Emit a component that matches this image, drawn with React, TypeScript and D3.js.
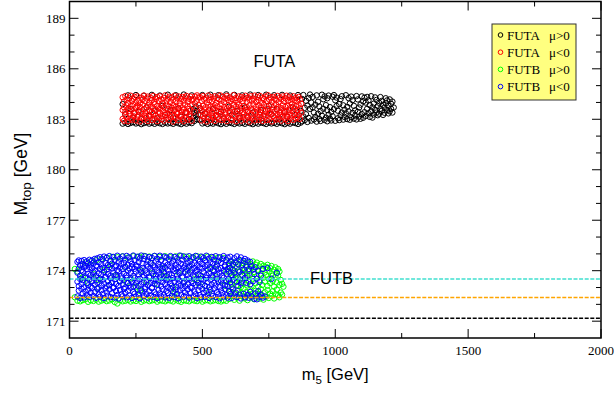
import React from 'react';
import * as d3 from 'd3';

// ---------- data (GeV) ----------
const xDomain = [0, 2000];
const yDomain = [170, 190];
const xMajorTicks = [0, 500, 1000, 1500, 2000];
const xMinorTicks = [250, 750, 1250, 1750];
const yMajorTicks = [171, 174, 177, 180, 183, 186, 189];
const yMinorTicks = [172, 173, 175, 176, 178, 179, 181, 182, 184, 185, 187, 188];

const refLineValues = [171.17, 172.4, 173.5];

const legendModels = ['FUTA', 'FUTA', 'FUTB', 'FUTB'];
const legendSigns = ['\u03bc>0', '\u03bc<0', '\u03bc>0', '\u03bc<0'];

const regionLabels = ['FUTA', 'FUTB'];
const regionLabelX = [771, 986];
const regionLabelY = [186.12, 173.21];

// Each row: [m5, Mtop, Mtop, ...] — points sharing (about) the same m5
// FUTA mu>0 (black)
const futaPos = [
  [200, 182.74, 183.9], [210, 182.8, 183.3], [220, 182.72, 184.42], [230, 182.78, 183.6], [240, 182.83, 183.1],
  [250, 182.75, 184.44], [260, 182.79, 183.45], [270, 182.71, 183.0], [280, 182.77, 184.4], [290, 182.82, 183.7],
  [300, 182.74, 183.2], [310, 182.79, 184.45], [320, 182.73, 183.5], [330, 182.81, 183.05], [340, 182.76, 184.41],
  [350, 182.72, 183.8], [360, 182.8, 183.25], [370, 182.75, 184.46], [380, 182.78, 183.55], [390, 182.73, 183.1],
  [400, 182.82, 184.43], [410, 182.76, 183.65], [420, 182.71, 183.15], [430, 182.79, 184.47], [440, 182.74, 183.4],
  [450, 182.81, 183.0], [460, 182.77, 184.42],
  [465, 183.1, 183.6], [470, 182.9, 183.4], [475, 183.25, 183.75], [480, 183.0, 183.5],
  [485, 183.3], [490, 182.95, 183.65],
  [500, 182.75, 184.44], [510, 182.8, 183.35], [520, 182.72, 183.0], [530, 182.78, 184.46], [540, 182.74, 183.6],
  [550, 182.83, 183.2], [560, 182.76, 184.43], [570, 182.71, 183.45], [580, 182.79, 183.05], [590, 182.73, 184.48],
  [600, 182.81, 183.75], [610, 182.77, 183.25], [620, 182.72, 184.45], [630, 182.8, 183.5], [640, 182.75, 183.1],
  [650, 182.78, 184.42], [660, 182.73, 183.7], [670, 182.82, 183.15], [680, 182.76, 184.47], [690, 182.71, 183.4],
  [700, 182.79, 183.0], [710, 182.74, 184.44], [720, 182.81, 183.55], [730, 182.77, 183.2], [740, 182.72, 184.46],
  [750, 182.8, 183.8], [760, 182.75, 183.3], [770, 182.78, 184.43], [780, 182.73, 183.6], [790, 182.82, 183.05],
  [800, 182.76, 184.45], [810, 182.71, 183.45], [820, 182.79, 183.15], [830, 182.74, 184.41], [840, 182.81, 183.7],
  [850, 182.77, 183.25], [860, 182.72, 184.44], [870, 182.8, 183.5],
  [875, 182.88, 184.21], [880, 183.17, 184.44], [885, 182.95, 183.68], [890, 183.3, 184.1],
  [895, 182.84, 183.81], [900, 183.08, 184.27], [905, 183.62, 184.47], [910, 182.92, 183.99],
  [915, 183.71, 184.33], [920, 182.99, 183.4], [925, 183.14, 183.87], [930, 182.86, 184.42],
  [935, 183.33, 184.04], [940, 183.02, 183.76], [945, 182.9, 183.49], [950, 183.21, 184.46],
  [955, 183.63, 184.19], [960, 182.96, 184.36], [965, 183.1, 183.84], [970, 182.88, 183.55, 184.25],
  [975, 183.27, 184.41], [980, 183.04, 183.72], [985, 182.93, 183.44], [990, 183.18, 184.34],
  [995, 183.6, 184.44], [1000, 182.91, 184.13], [1005, 183.79, 184.29], [1010, 183.06, 183.51],
  [1015, 182.95, 183.9], [1020, 183.23, 184.2], [1025, 183.4, 184.37], [1030, 182.98, 183.83],
  [1035, 183.14, 183.57], [1040, 183.35, 184.43], [1045, 183.01, 183.74], [1050, 183.47, 184.26],
  [1055, 182.97, 183.94], [1060, 183.12, 184.35], [1065, 183.38, 184.14], [1070, 183.04, 183.8],
  [1075, 183.22, 183.53], [1080, 182.99, 184.38], [1085, 183.44, 184.18], [1090, 183.16, 183.7],
  [1095, 183.03, 183.87], [1100, 183.31, 184.36], [1105, 183.09, 184.06], [1110, 183.42, 184.28],
  [1115, 183.2, 183.99], [1120, 183.62, 184.33], [1125, 183.36, 184.12], [1130, 183.14, 183.84],
  [1135, 183.48, 184.37], [1140, 183.1, 183.71], [1145, 183.28, 183.93], [1150, 183.56, 184.3],
  [1155, 183.4, 184.15], [1160, 183.24, 183.79], [1165, 183.33, 183.98], [1170, 183.63, 184.32],
  [1175, 183.5, 184.09], [1180, 183.26, 183.86], [1185, 183.39, 183.7], [1190, 183.95, 184.25],
  [1195, 183.55, 184.12], [1200, 183.35, 183.8], [1205, 183.47, 184.18], [1210, 183.62, 183.92], [1215, 183.4, 184.05],
  [1220, 183.7],
];

// FUTA mu<0 (red)
const futaNeg = [
  [200, 183.02, 183.55, 184.31], [205, 182.91, 183.71, 184.05], [210, 183.24, 183.44, 184.38], [215, 183.11, 183.83, 184.17],
  [220, 182.88, 183.62, 183.97], [225, 183.3, 183.49, 184.26], [230, 183.05, 183.77, 184.4], [235, 182.97, 183.58, 184.09],
  [240, 183.19, 183.88, 184.22], [245, 183.35, 183.41, 184.33], [250, 182.93, 183.66, 184.01], [255, 183.14, 183.8, 184.36],
  [260, 183.27, 183.52, 184.12], [265, 182.87, 183.73, 183.95], [270, 183.09, 183.46, 184.29], [275, 183.33, 183.86, 184.19],
  [280, 182.99, 183.6, 184.41], [285, 183.21, 183.39, 184.07], [290, 183.07, 183.69, 184.24], [295, 182.9, 183.84, 184.35],
  [300, 183.28, 183.53, 183.99], [305, 183.16, 183.75, 184.28], [310, 182.95, 183.43, 184.14], [315, 183.31, 183.67, 184.39],
  [320, 183.04, 183.89, 184.03], [325, 183.22, 183.57, 184.21], [330, 182.89, 183.79, 184.32], [335, 183.12, 183.45, 184.1],
  [340, 183.36, 183.64, 184.37], [345, 183.0, 183.82, 184.18], [350, 183.18, 183.5, 183.96], [355, 182.92, 183.72, 184.27],
  [360, 183.26, 183.4, 184.42], [365, 183.08, 183.87, 184.08], [370, 183.34, 183.59, 184.23], [375, 182.96, 183.76, 184.34],
  [380, 183.13, 183.48, 184.02], [385, 183.29, 183.68, 184.3], [390, 182.86, 183.85, 184.16], [395, 183.2, 183.54, 184.4],
  [400, 183.06, 183.74, 184.06], [405, 183.32, 183.42, 184.25], [410, 182.94, 183.63, 184.36], [415, 183.17, 183.81, 183.98],
  [420, 183.25, 183.47, 184.2], [425, 183.01, 183.7, 184.33], [430, 182.88, 183.56, 184.11], [435, 183.37, 183.88, 184.29],
  [440, 183.1, 183.44, 184.39], [445, 182.98, 183.78, 184.04], [450, 183.23, 183.61, 184.22], [455, 183.15, 183.52, 184.35],
  [460, 182.91, 183.83, 184.13], [465, 184.2], [468, 183.45], [472, 183.95, 184.35], [478, 184.1], [480, 184.42],
  [486, 183.85, 184.3],
  [492, 183.27, 183.66, 184.3], [497, 182.93, 183.49, 184.09], [502, 183.19, 183.8, 184.38], [507, 183.03, 183.58, 184.17],
  [512, 183.3, 183.71, 184.26], [517, 182.87, 183.43, 184.01], [522, 183.12, 183.86, 184.41], [527, 183.35, 183.55, 184.14],
  [532, 182.97, 183.75, 184.31], [537, 183.21, 183.4, 184.06], [542, 183.08, 183.67, 184.23], [547, 182.9, 183.84, 184.37],
  [552, 183.26, 183.51, 183.97], [557, 183.14, 183.77, 184.28], [562, 183.0, 183.46, 184.19], [567, 183.33, 183.62, 184.42],
  [572, 182.95, 183.89, 184.1], [577, 183.18, 183.53, 184.34], [582, 183.05, 183.73, 184.02], [587, 183.28, 183.41, 184.24],
  [592, 182.89, 183.65, 184.39], [597, 183.11, 183.82, 184.15], [602, 183.36, 183.48, 184.3], [607, 183.02, 183.7, 184.07],
  [612, 182.94, 183.57, 184.21], [617, 183.24, 183.87, 184.43], [622, 183.16, 183.44, 184.12], [627, 182.88, 183.76, 184.27],
  [632, 183.31, 183.6, 184.0], [637, 183.07, 183.85, 184.36], [642, 183.2, 183.5, 184.18], [647, 182.92, 183.68, 184.32],
  [652, 183.13, 183.42, 184.08], [657, 183.34, 183.79, 184.25], [662, 182.99, 183.55, 184.4], [667, 183.22, 183.72, 184.03],
  [672, 183.09, 183.47, 184.29], [677, 182.86, 183.83, 184.16], [682, 183.27, 183.63, 184.37], [687, 183.04, 183.52, 184.11],
  [692, 183.18, 183.88, 184.22], [697, 182.93, 183.45, 184.41], [702, 183.35, 183.74, 184.05], [707, 183.12, 183.58, 184.31],
  [712, 182.97, 183.81, 184.14], [717, 183.25, 183.43, 184.38], [722, 183.06, 183.69, 183.99], [727, 182.9, 183.54, 184.26],
  [732, 183.3, 183.86, 184.2], [737, 183.15, 183.49, 184.35], [742, 182.95, 183.77, 184.09], [747, 183.21, 183.61, 184.42],
  [752, 183.01, 183.4, 184.17], [757, 183.33, 183.84, 184.28], [762, 182.87, 183.56, 184.04], [767, 183.19, 183.71, 184.33],
  [772, 183.1, 183.46, 184.23], [777, 182.98, 183.89, 184.13], [782, 183.28, 183.59, 184.39], [787, 183.03, 183.75, 184.01],
  [792, 183.24, 183.42, 184.3], [797, 182.92, 183.66, 184.19], [802, 183.14, 183.83, 184.36], [807, 183.36, 183.51, 184.07],
  [812, 183.0, 183.73, 184.25], [817, 183.17, 183.44, 184.4], [822, 182.89, 183.8, 184.12], [827, 183.27, 183.57, 184.31],
  [832, 183.08, 183.68, 184.02], [837, 183.22, 183.87, 184.21], [842, 182.96, 183.48, 184.37], [847, 183.31, 183.62, 184.15],
  [852, 183.05, 183.78, 184.27], [857, 183.13, 183.53, 184.06], [862, 183.26, 183.85, 184.33], [867, 183.02, 183.64, 184.18],
  [872, 183.4, 183.92],
];

// FUTB mu>0 (green)
const futbPos = [
  [20, 174.1, 172.42], [30, 172.22, 173.95], [40, 174.3, 172.18], [50, 172.25, 173.62], [60, 174.48, 172.3],
  [70, 172.15, 173.28], [80, 174.55, 172.24], [90, 172.2, 173.8], [100, 174.62, 172.28], [110, 172.16, 173.45],
  [120, 174.7, 172.22], [130, 172.27, 174.05], [140, 174.76, 172.19], [150, 172.23, 173.15], [160, 174.82, 172.3],
  [170, 172.14, 173.7], [180, 174.8, 172.05], [190, 172.25, 173.4], [200, 174.85, 172.18], [210, 172.21, 174.2],
  [220, 174.78, 172.26], [230, 172.17, 173.55], [240, 174.86, 172.24], [250, 172.2, 173.05], [260, 174.83, 172.29],
  [270, 172.15, 174.0], [280, 174.88, 172.22], [290, 172.26, 173.35], [300, 174.84, 172.19], [310, 172.23, 173.85],
  [320, 174.87, 172.27], [330, 172.16, 173.2], [340, 174.82, 172.24], [350, 172.21, 174.15], [360, 174.86, 172.18],
  [370, 172.25, 173.6], [380, 174.8, 172.22], [390, 172.17, 173.0], [400, 174.85, 172.28], [410, 172.2, 173.9],
  [420, 174.88, 172.15], [430, 172.24, 173.3], [440, 174.83, 172.21], [450, 172.18, 174.25], [460, 174.79, 172.26],
  [470, 172.22, 173.5], [480, 174.86, 172.19], [490, 172.27, 173.75], [500, 174.81, 172.16], [510, 172.23, 173.1],
  [520, 174.84, 172.25], [530, 172.18, 174.1], [540, 174.8, 172.22], [550, 172.26, 173.65], [560, 174.78, 172.2],
  [570, 172.17, 173.4], [580, 174.75, 172.24], [590, 172.21, 173.95],
  [45, 173.55], [105, 172.95], [155, 174.35], [215, 173.3], [265, 172.8], [305, 174.45], [355, 173.7],
  [395, 172.65], [445, 174.0], [485, 173.25], [525, 172.75], [555, 174.3], [585, 173.1],
  [600, 172.32, 173.41, 174.28], [605, 172.75, 173.88, 174.55], [610, 172.48, 173.2, 174.1], [615, 172.95, 173.63, 174.42],
  [620, 172.27, 173.35, 174.0], [625, 172.6, 173.79, 174.51], [630, 172.4, 173.12, 174.21], [635, 172.83, 173.56, 174.37],
  [640, 172.22, 173.47, 173.95], [645, 172.68, 173.02, 174.58], [650, 172.5, 173.7, 174.15], [655, 172.91, 173.28, 174.45],
  [660, 172.35, 173.85, 174.05], [665, 172.73, 173.17, 174.32], [670, 172.25, 173.6, 174.5], [675, 172.57, 173.38, 173.98],
  [680, 172.88, 173.75, 174.4], [685, 172.42, 173.08, 174.2], [690, 172.66, 173.53, 174.55], [695, 172.3, 173.92, 174.12],
  [700, 172.8, 173.25, 174.36], [705, 172.46, 173.68, 174.48], [710, 172.62, 173.05, 174.02], [715, 172.34, 173.44, 174.25],
  [720, 172.9, 173.82, 174.4], [725, 172.53, 173.15, 174.08], [730, 172.28, 173.58, 174.3], [735, 172.72, 173.35, 173.9],
  [740, 172.45, 173.74, 174.22], [745, 172.85, 173.1, 174.35], [750, 172.38, 173.5, 173.96], [755, 172.64, 173.27, 174.15],
  [760, 172.5, 173.83, 174.28], [765, 172.78, 173.4, 173.7], [770, 172.35, 173.05, 174.05], [775, 172.6, 173.62, 174.2],
  [780, 172.88, 173.3, 173.85], [785, 172.55, 173.7, 174.1], [790, 172.42, 173.15, 173.95], [795, 172.7, 173.45],
  [800, 172.58, 173.22], [805, 173.05],
];

// FUTB mu<0 (blue)
const futbNeg = [
  [30, 172.47, 173.35, 173.88, 174.52], [35, 172.82, 173.08, 174.12, 174.61], [40, 172.38, 173.51, 173.7, 174.33],
  [45, 172.93, 173.2, 174.03, 174.58], [50, 172.64, 173.44, 173.95, 174.4], [55, 172.41, 173.02, 174.19, 174.63],
  [60, 172.76, 173.57, 173.66, 174.29], [65, 172.55, 173.26, 174.08, 174.55], [70, 172.87, 173.13, 173.82, 174.44],
  [75, 172.44, 173.48, 174.22, 174.65], [80, 172.69, 173.05, 173.74, 174.36], [85, 172.98, 173.38, 174.15, 174.6],
  [90, 172.5, 173.59, 173.91, 174.48], [95, 172.73, 173.17, 174.01, 174.7], [100, 172.39, 173.42, 173.68, 174.31],
  [105, 172.91, 173.29, 174.24, 174.74], [110, 172.58, 173.0, 173.85, 174.5], [115, 172.46, 173.53, 174.1, 174.8],
  [120, 172.84, 173.11, 173.77, 174.38], [125, 172.62, 173.46, 174.17, 174.68], [130, 172.37, 173.23, 173.93, 174.84],
  [135, 172.95, 173.6, 173.64, 174.45], [140, 172.71, 173.07, 174.06, 174.77], [145, 172.52, 173.39, 173.8, 174.34],
  [150, 172.89, 173.15, 174.21, 174.87], [155, 172.43, 173.55, 173.71, 174.58], [160, 172.66, 173.31, 174.13, 174.42],
  [165, 172.97, 173.03, 173.89, 174.82], [170, 172.4, 173.49, 174.25, 174.64], [175, 172.79, 173.21, 173.75, 174.3],
  [180, 172.56, 173.61, 174.04, 174.89], [185, 172.35, 173.1, 173.97, 174.53], [190, 172.86, 173.36, 174.18, 174.72],
  [195, 172.6, 173.54, 173.67, 174.39], [200, 172.48, 173.18, 174.09, 174.85], [205, 172.92, 173.43, 173.83, 174.47],
  [210, 172.68, 173.01, 174.23, 174.66], [215, 172.42, 173.58, 173.73, 174.88], [220, 172.81, 173.27, 174.0, 174.35],
  [225, 172.53, 173.12, 174.14, 174.79], [230, 172.99, 173.47, 173.86, 174.57], [235, 172.38, 173.34, 174.2, 174.41],
  [240, 172.74, 173.06, 173.69, 174.9], [245, 172.63, 173.56, 174.11, 174.62], [250, 172.45, 173.24, 173.94, 174.32],
  [255, 172.88, 173.4, 174.26, 174.83], [260, 172.57, 173.09, 173.78, 174.51], [265, 172.36, 173.52, 174.07, 174.73],
  [270, 172.83, 173.19, 173.9, 174.9], [275, 172.7, 173.62, 174.16, 174.43], [280, 172.49, 173.3, 173.72, 174.69],
  [285, 172.94, 173.04, 174.02, 174.86], [290, 172.61, 173.45, 173.84, 174.37], [295, 172.4, 173.14, 174.24, 174.6],
  [300, 172.78, 173.58, 173.65, 174.81], [305, 172.54, 173.28, 174.12, 174.46], [310, 172.96, 173.0, 173.96, 174.76],
  [315, 172.44, 173.41, 173.79, 174.33], [320, 172.72, 173.22, 174.19, 174.88], [325, 172.59, 173.5, 173.7, 174.54],
  [330, 172.37, 173.16, 174.05, 174.71], [335, 172.85, 173.37, 173.88, 174.4], [340, 172.65, 173.6, 174.22, 174.89],
  [345, 172.47, 173.07, 173.76, 174.63], [350, 172.9, 173.33, 174.1, 174.3], [355, 172.56, 173.55, 173.92, 174.84],
  [360, 172.41, 173.2, 174.17, 174.49], [365, 172.8, 173.44, 173.68, 174.78], [370, 172.67, 173.02, 174.03, 174.36],
  [375, 172.39, 173.48, 173.81, 174.67], [380, 172.93, 173.26, 174.25, 174.87], [385, 172.51, 173.11, 173.74, 174.44],
  [390, 172.75, 173.57, 174.08, 174.59], [395, 172.43, 173.35, 173.98, 174.82], [400, 172.87, 173.05, 174.14, 174.35],
  [405, 172.62, 173.52, 173.71, 174.73], [410, 172.36, 173.23, 174.21, 174.52], [415, 172.82, 173.4, 173.86, 174.9],
  [420, 172.58, 173.13, 174.01, 174.41], [425, 172.95, 173.59, 173.66, 174.65], [430, 172.46, 173.31, 174.18, 174.85],
  [435, 172.71, 173.08, 173.93, 174.31], [440, 172.53, 173.46, 174.11, 174.7], [445, 172.89, 173.19, 173.77, 174.48],
  [450, 172.4, 173.54, 174.24, 174.86], [455, 172.66, 173.03, 173.89, 174.57], [460, 172.98, 173.38, 174.06, 174.38],
  [465, 172.48, 173.25, 173.72, 174.79], [470, 172.77, 173.61, 174.16, 174.46], [475, 172.6, 173.15, 173.95, 174.88],
  [480, 172.37, 173.43, 174.02, 174.33], [485, 172.84, 173.29, 173.8, 174.68], [490, 172.55, 173.06, 174.2, 174.53],
  [495, 172.42, 173.51, 173.69, 174.84], [500, 172.91, 173.21, 174.13, 174.4], [505, 172.69, 173.45, 173.91, 174.75],
  [510, 172.45, 173.1, 174.26, 174.61], [515, 172.8, 173.56, 173.74, 174.89], [520, 172.57, 173.32, 174.07, 174.35],
  [525, 172.38, 173.01, 173.85, 174.72], [530, 172.86, 173.47, 174.19, 174.5], [535, 172.64, 173.18, 173.67, 174.82],
  [540, 172.5, 173.6, 174.04, 174.42], [545, 172.94, 173.27, 173.97, 174.66], [550, 172.43, 173.12, 174.22, 174.86],
  [555, 172.73, 173.53, 173.78, 174.37], [560, 172.59, 173.36, 174.09, 174.58], [565, 172.36, 173.04, 173.88, 174.8],
  [570, 172.83, 173.42, 174.15, 174.47], [575, 172.67, 173.23, 173.7, 174.69], [580, 172.47, 173.58, 174.0, 174.87],
  [585, 172.9, 173.14, 174.24, 174.32], [590, 172.54, 173.39, 173.82, 174.62], [595, 172.4, 173.07, 174.11, 174.78],
  [600, 172.79, 173.5, 173.94, 174.44], [605, 172.61, 173.3, 174.17, 174.83], [610, 172.38, 173.02, 173.73, 174.55],
  [615, 172.88, 173.46, 174.05, 174.36], [620, 172.52, 173.87, 174.74], [625, 172.7, 173.61, 174.49],
  [630, 172.44, 173.34, 174.85], [635, 173.09, 174.02, 174.4], [640, 172.58, 173.92, 174.64],
  [645, 172.35, 173.25, 174.79], [650, 173.41, 173.76, 174.33], [655, 172.63, 174.08, 174.58],
  [660, 172.42, 173.57, 174.7], [665, 173.28, 174.23], [670, 172.56, 173.71, 174.61],
  [675, 172.39, 174.1], [680, 172.74, 173.19, 174.52],
  [685, 172.48, 174.28], [690, 173.37, 174.06], [695, 172.33, 173.8], [700, 172.65, 174.2],
  [705, 172.3, 173.52], [710, 172.78, 174.0], [715, 172.45, 173.33], [720, 173.7, 172.58], [728, 172.4, 174.1],
  [735, 172.47], [745, 174.15], [760, 173.52], [780, 173.88],
];

const seriesData = [futaPos, futaNeg, futbPos, futbNeg];

// ---------- styles ----------
const seriesColors = ['#000000', '#ff0000', '#00ff00', '#0000ff'];
const refLineColors = ['#000000', '#ffa500', '#40e0d0'];
const SERIF = '"Liberation Serif", "Times New Roman", serif';
const SANS = '"Liberation Sans", Arial, sans-serif';

const W = 614;
const H = 394;
const plot = { left: 69.5, right: 601, top: 1.5, bottom: 338 };

function toPoints(rows: number[][]): [number, number][] {
  const out: [number, number][] = [];
  rows.forEach((r) => {
    for (let i = 1; i < r.length; i++) out.push([r[0], r[i]]);
  });
  return out;
}

export default function App() {
  const x = d3.scaleLinear().domain(xDomain).range([plot.left, plot.right]);
  const y = d3.scaleLinear().domain(yDomain).range([plot.bottom, plot.top]);
  const majorLen = 9;
  const minorLen = 5;

  return (
    <svg
      width={W}
      height={H}
      viewBox={`0 0 ${W} ${H}`}
      style={{ position: 'absolute', left: 0, top: 0, background: '#fff' }}
    >
      <rect x={0} y={0} width={W} height={H} fill="#ffffff" />
      {/* scatter */}
      {seriesData.map((rows, si) => (
        <g key={si} fill="none" stroke={seriesColors[si]} strokeWidth={1}>
          {toPoints(rows).map(([a, b], i) => (
            <circle key={i} cx={x(a)} cy={y(b)} r={2.7} />
          ))}
        </g>
      ))}
      {/* reference lines */}
      {refLineValues.map((v, i) => (
        <line
          key={i}
          x1={plot.left}
          x2={plot.right}
          y1={y(v)}
          y2={y(v)}
          stroke={refLineColors[i]}
          strokeWidth={1.5}
          strokeDasharray="4,1.6"
        />
      ))}
      {/* frame */}
      <rect
        x={plot.left}
        y={plot.top}
        width={plot.right - plot.left}
        height={plot.bottom - plot.top}
        fill="none"
        stroke="#000"
        strokeWidth={1.5}
      />
      {/* x ticks */}
      {xMajorTicks.map((t) => (
        <g key={'xm' + t}>
          <line x1={x(t)} x2={x(t)} y1={plot.bottom} y2={plot.bottom - majorLen} stroke="#000" />
          <line x1={x(t)} x2={x(t)} y1={plot.top} y2={plot.top + majorLen} stroke="#000" />
          <text x={x(t)} y={plot.bottom + 17} textAnchor="middle" fontFamily={SERIF} fontSize={13} fill="#000">
            {t}
          </text>
        </g>
      ))}
      {xMinorTicks.map((t) => (
        <g key={'xn' + t}>
          <line x1={x(t)} x2={x(t)} y1={plot.bottom} y2={plot.bottom - minorLen} stroke="#000" />
          <line x1={x(t)} x2={x(t)} y1={plot.top} y2={plot.top + minorLen} stroke="#000" />
        </g>
      ))}
      {/* y ticks */}
      {yMajorTicks.map((t) => (
        <g key={'ym' + t}>
          <line x1={plot.left} x2={plot.left + majorLen} y1={y(t)} y2={y(t)} stroke="#000" />
          <line x1={plot.right} x2={plot.right - majorLen} y1={y(t)} y2={y(t)} stroke="#000" />
          <text x={plot.left - 4} y={y(t) + 4.5} textAnchor="end" fontFamily={SERIF} fontSize={13} fill="#000">
            {t}
          </text>
        </g>
      ))}
      {yMinorTicks.map((t) => (
        <g key={'yn' + t}>
          <line x1={plot.left} x2={plot.left + minorLen} y1={y(t)} y2={y(t)} stroke="#000" />
          <line x1={plot.right} x2={plot.right - minorLen} y1={y(t)} y2={y(t)} stroke="#000" />
        </g>
      ))}
      {/* axis titles */}
      <text x={(plot.left + plot.right) / 2} y={380} textAnchor="middle" fontFamily={SANS} fontSize={16.5} fill="#000">
        m<tspan fontSize={11.5} dy={4}>5</tspan>
        <tspan dy={-4}> [GeV]</tspan>
      </text>
      <text
        transform={`translate(27, 174) rotate(-90)`}
        textAnchor="middle"
        fontFamily={SANS}
        fontSize={17.5}
        fill="#000"
      >
        M<tspan fontSize={13.5} dy={4}>top</tspan>
        <tspan dy={-4}> [GeV]</tspan>
      </text>
      {/* region labels */}
      {regionLabels.map((s, i) => (
        <text
          key={s}
          x={x(regionLabelX[i])}
          y={y(regionLabelY[i])}
          textAnchor="middle"
          fontFamily={SANS}
          fontSize={16.5}
          fill="#000"
        >
          {s}
        </text>
      ))}
      {/* legend */}
      <g>
        <rect x={492} y={24} width={84} height={76} fill="#ffff80" stroke="#333" strokeWidth={1} />
        {legendModels.map((m, i) => {
          const cy = 35 + i * 17.2;
          return (
            <g key={i}>
              <circle cx={500.5} cy={cy} r={2.3} fill="none" stroke={seriesColors[i]} strokeWidth={1} />
              <text x={507} y={cy + 4.5} fontFamily={SERIF} fontSize={13} fill="#000">
                {m}
              </text>
              <text x={549} y={cy + 4.5} fontFamily={SERIF} fontSize={13} fill="#000">
                {legendSigns[i]}
              </text>
            </g>
          );
        })}
      </g>
    </svg>
  );
}
